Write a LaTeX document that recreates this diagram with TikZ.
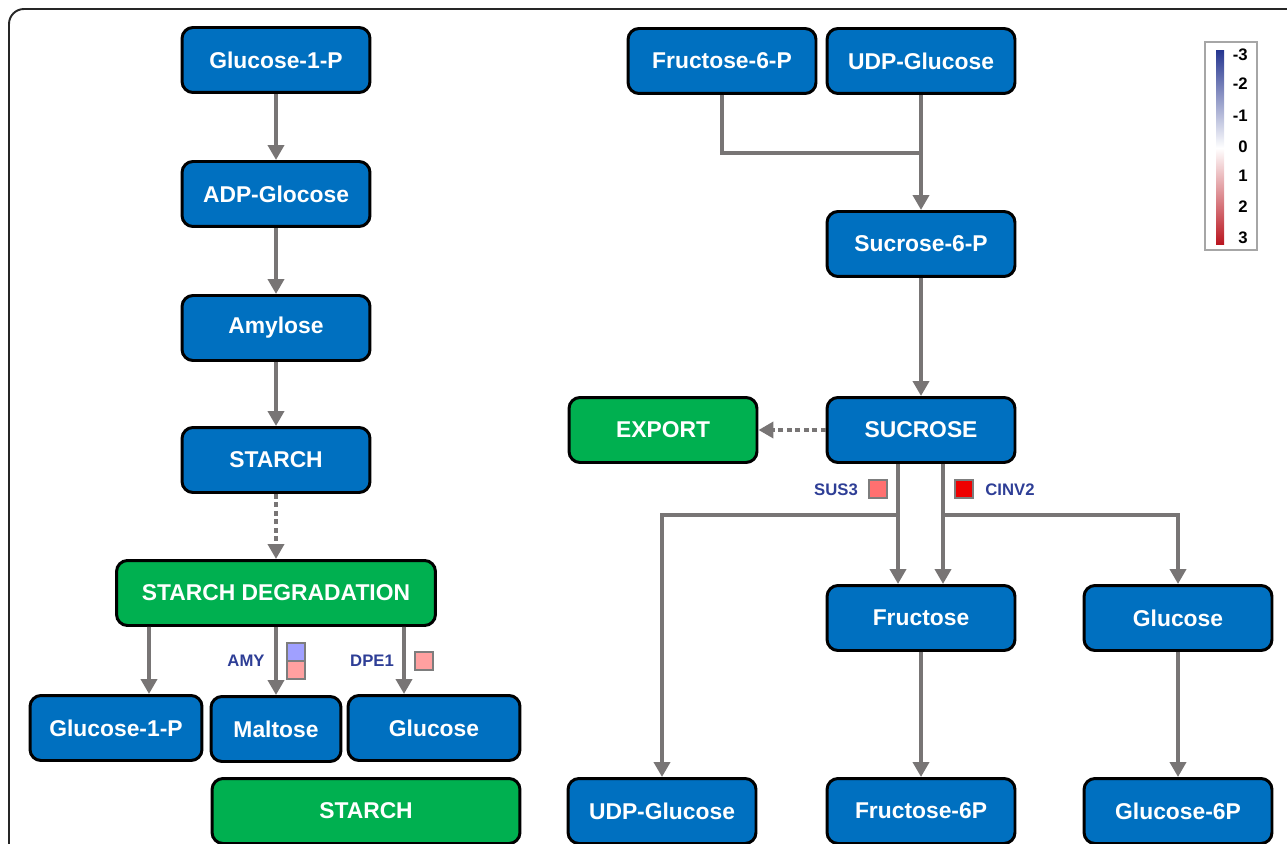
\documentclass[tikz,border=0pt]{standalone}
\usepackage{fontspec}
\setmainfont{Liberation Sans}
\usepackage{tikz}
\usetikzlibrary{arrows.meta}
\usetikzlibrary{calc}
\usetikzlibrary{positioning}
\definecolor{poolblue}{RGB}{0,112,192}
\definecolor{procgreen}{RGB}{0,176,80}
\definecolor{linkgray}{RGB}{120,117,117}
\definecolor{genename}{RGB}{46,62,150}
\definecolor{fcframe}{RGB}{125,125,125}
\definecolor{fcdown}{RGB}{160,160,255}
\definecolor{fcup}{RGB}{255,160,160}
\definecolor{fcupmid}{RGB}{255,112,112}
\definecolor{fcuphigh}{RGB}{238,0,0}
\definecolor{scaleblue}{RGB}{40,56,145}
\definecolor{scalered}{RGB}{185,20,30}
\tikzstyle{metab}=[rectangle, rounded corners=0.22cm, draw=black, line width=1.7pt, fill=poolblue, text=white, font=\fontsize{13}{15}\selectfont\bfseries, minimum width=3.76cm, minimum height=1.3cm, inner sep=0pt, text centered]
\tikzstyle{proc}=[metab, fill=procgreen]
\tikzstyle{link}=[draw=linkgray, line width=2.2pt]
\tikzstyle{flow}=[link, -{Triangle[length=0.3cm, width=0.32cm]}]
\tikzstyle{dots}=[flow, dash pattern=on 0.1cm off 0.07cm]
\tikzstyle{gene}=[font=\fontsize{9.5}{11}\selectfont\bfseries, text=genename, inner sep=0pt]
\tikzstyle{fc}=[rectangle, draw=fcframe, line width=1.4pt, minimum width=0.36cm, minimum height=0.37cm, inner sep=0pt]

\begin{document}
\begin{tikzpicture}[x=0.02cm, y=-0.02cm]

\clip (0,0) rectangle (1287,844);

% frame
\draw[line width=1.1pt, black!85, rounded corners=0.3cm] (9,900) -- (9,9) -- (1320,9);

% starch side
\node[metab] (g1p)      at (276,60)  {Glucose-1-P};
\node[metab] (adpg)     at (276,194) {ADP-Glocose};
\node[metab] (amyl)     at (276,328) {Amylose};
\node[metab] (starch)   at (276,460) {STARCH};
\node[proc, minimum width=6.38cm] (deg) at (276,593) {STARCH DEGRADATION};
\node[metab, minimum width=3.44cm] (g1pb) at (116,728) {Glucose-1-P};
\node[metab, minimum width=2.6cm]  (malt) at (276,729) {Maltose};
\node[metab, minimum width=3.44cm] (glcl) at (434,728) {Glucose};
\node[proc, minimum width=6.16cm]  (starchb) at (366,811) {STARCH};

% sucrose side
\node[metab] (f6p)      at (722,61)  {Fructose-6-P};
\node[metab] (udpg)     at (921,61)  {UDP-Glucose};
\node[metab] (s6p)      at (921,244) {Sucrose-6-P};
\node[proc]  (export)   at (663,430) {EXPORT};
\node[metab] (suc)      at (921,430) {SUCROSE};
\node[metab] (fru)      at (921,618) {Fructose};
\node[metab] (glcr)     at (1178,618) {Glucose};
\node[metab] (udpgb)    at (662,811) {UDP-Glucose};
\node[metab] (f6pb)     at (921,811) {Fructose-6P};
\node[metab] (g6p)      at (1178,811) {Glucose-6P};

\coordinate (sjoin)  at (921,153);
\coordinate (lsplit) at (898,515);
\coordinate (rsplit) at (943,515);

% enzymes
\node[fc, fill=fcdown] (amyhi) at (296,652) {};
\node[fc, fill=fcup]   (amylo) at (296,670) {};
\node[gene] (amy)   at (246,661) {AMY};
\node[fc, fill=fcup]   (dpebox) at (424,661) {};
\node[gene] (dpe)   at (372,661) {DPE1};
\node[fc, fill=fcupmid]  (susbox) at (878,489) {};
\node[gene] (sus)   at (836,490) {SUS3};
\node[fc, fill=fcuphigh] (cinbox) at (964,489) {};
\node[gene] (cin)   at (1010,490) {CINV2};

\draw[flow] (g1p) -- (adpg);
\draw[flow] (adpg) -- (amyl);
\draw[flow] (amyl) -- (starch);
\draw[dots] (starch) -- (deg);
\draw[flow] ([xshift=-2.54cm]deg.south) -- ([xshift=0.66cm]g1pb.north);
\draw[flow] (deg) -- (malt);
\draw[flow] ([xshift=2.56cm]deg.south) -- ([xshift=-0.6cm]glcl.north);

\draw[link] (f6p) |- (sjoin);
\draw[flow] (udpg) -- (s6p);
\draw[flow] (s6p) -- (suc);
\draw[dots] (suc) -- (export);
\draw[flow] ([xshift=-0.46cm]suc.south) -- ([xshift=-0.46cm]fru.north);
\draw[flow] ([xshift=0.44cm]suc.south) -- ([xshift=0.44cm]fru.north);
\draw[flow] (lsplit) -| (udpgb);
\draw[flow] (rsplit) -| (glcr);
\draw[flow] (fru) -- (f6pb);
\draw[flow] (glcr) -- (g6p);

% colour scale
\draw[draw=black!35, line width=1pt] (1205,42) rectangle (1257,250);
\shade[top color=scaleblue, bottom color=scalered, middle color=white] (1216,51) rectangle (1224,245);
\foreach \v/\y [count=\i] in {-3/55,-2/84,-1/116,0/147,1/176,2/207,3/238}
  \node[anchor=east, inner sep=0pt, font=\fontsize{9.5}{11}\selectfont\bfseries] (tick\i) at (1248,\y) {\v};

\end{tikzpicture}
\end{document}
